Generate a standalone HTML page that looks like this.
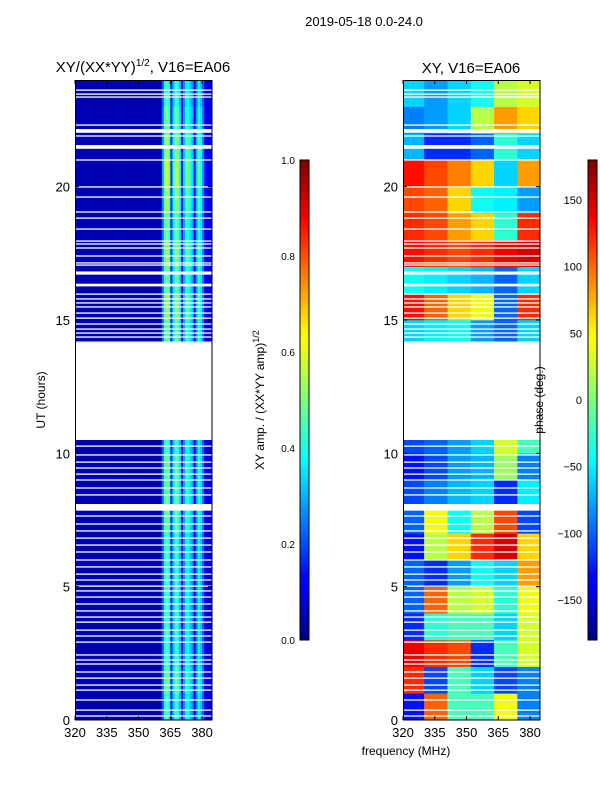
<!DOCTYPE html>
<html><head><meta charset="utf-8"><style>
body{margin:0;background:#fff;width:600px;height:800px;overflow:hidden;font-family:"Liberation Sans",sans-serif}
svg text{font-family:"Liberation Sans",sans-serif;fill:#000}
</style></head><body>
<svg id="fig" width="600" height="800" xmlns="http://www.w3.org/2000/svg">
<defs>
<linearGradient id="jet" x1="0" y1="1" x2="0" y2="0">
<stop offset="0" stop-color="#00007f"/><stop offset="0.11" stop-color="#0000ff"/><stop offset="0.125" stop-color="#0000ff"/>
<stop offset="0.34" stop-color="#00dcff"/><stop offset="0.375" stop-color="#00ffff"/><stop offset="0.5" stop-color="#7dff7a"/>
<stop offset="0.625" stop-color="#ffff00"/><stop offset="0.66" stop-color="#ffe600"/><stop offset="0.875" stop-color="#ff0000"/><stop offset="1" stop-color="#7f0000"/>
</linearGradient>
</defs>
<text x="364" y="26" font-size="13" text-anchor="middle">2019-05-18 0.0-24.0</text>
<text x="143" y="72" font-size="15" text-anchor="middle">XY/(XX*YY)<tspan font-size="10" dy="-6">1/2</tspan><tspan dy="6">, V16=EA06</tspan></text>
<text x="471" y="73" font-size="15" text-anchor="middle">XY, V16=EA06</text>
<g id="left"></g>
<g id="right"></g>
<g id="axes"></g>
<text x="406" y="755" font-size="12" text-anchor="middle">frequency (MHz)</text>
<text transform="translate(45,400) rotate(-90)" font-size="12" text-anchor="middle">UT (hours)</text>
<rect x="300" y="160" width="9" height="480" fill="url(#jet)" stroke="#000" stroke-width="1"/>
<rect x="588" y="160" width="9" height="480" fill="url(#jet)" stroke="#000" stroke-width="1"/>
<text transform="translate(264,400) rotate(-90)" font-size="12" text-anchor="middle">XY amp. / (XX*YY amp)<tspan font-size="9" dy="-5">1/2</tspan></text>
<text transform="translate(543,400) rotate(-90)" font-size="12" text-anchor="middle">phase (deg.)</text>
</svg>
<script>
const NS='http://www.w3.org/2000/svg';
// data
const ampFreqs=[];for(let f=320;f<=384;f++)ampFreqs.push(f);
const ampProfile=[.05,.05,.05,.05,.05,.05,.05,.05,.05,.05,.05,.05,.05,.05,.05,.05,.05,.05,.05,.05,.05,.05,.05,.05,.05,.05,.05,.05,.05,.05,.05,.05,.05,.05,.05,.05,.05,.05,.05,.05,.05,
 .22,.4,.45,.4,.14,.32,.42,.42,.32,.11,.27,.37,.37,.32,.27,.11,.27,.37,.32,.22,.11,.09,.09,.09];
const ampHourFactor=[1,1.1,1,1,1,1,1,1.1,1.1,1.1,1,1,1,1,1.1,1.2,1.1,1.2,1.1,1.2,1.3,1.2,1.1,1];
const phaseFreqEdges=[320,330,341,352,363,374,385];
const phaseRows=[
[-130,100,-20,-20,40,-90],[120,-110,-20,-60,-110,-90],[140,120,110,-120,-20,30],[-120,-30,-20,-20,-60,30],
[-100,100,20,30,-30,40],[-100,-120,-80,-40,-60,80],[-130,20,60,120,150,60],[-100,40,-40,20,110,-110],
[-110,-90,-70,-60,-120,-50],[-130,-110,-80,-70,10,-90],[-110,-100,-80,-60,30,-20],null,null,null,
[-60,-50,-40,-80,-100,-60],[130,100,60,40,-100,120],[-40,-50,-60,-70,-100,-60],[130,120,110,120,140,150],
[120,110,80,60,-30,120],[110,100,60,-40,-50,-80],[130,110,90,60,-60,80],[-70,-120,-120,-100,-30,-60],
[-90,-80,-60,20,80,60],[-60,-80,-60,-40,20,30]];
const dataGap=[10.5,14.15];
const gapHours=[23.62,23.47,23.36,22.31,21.9,21.0,19.99,19.61,19.05,18.82,18.41,17.96,17.85,17.7,17.4,17.14,17.06,15.97,15.79,15.64,15.49,15.26,15.07,14.85,14.66,14.51,14.36,14.17,
10.27,9.94,9.67,9.45,9.22,9.0,8.7,8.44,7.65,7.35,7.09,6.82,6.56,6.3,6.0,5.74,5.47,5.25,5.02,4.84,4.61,4.35,4.09,3.86,3.67,3.37,3.15,2.92,2.44,2.25,2.1,1.8,1.57,1.31,1.12,0.75,0.37,0.15];
const thickGaps=[[22.02,22.16],[21.42,21.56],[16.7,16.82],[16.26,16.36],[7.85,8.1]];
const xTicks=[320,335,350,365,380];
const yTicks=[0,5,10,15,20];
const ampTicks=[0,0.2,0.4,0.6,0.8,1.0];
const phaseTicks=[-150,-100,-50,0,50,100,150];
// axes functions
const Y=h=>720-h*(640/24);
const XL=f=>75+(f-320)*(137/64.7);
const XR=f=>403+(f-320)*(137/64.7);
function jet(v){v=Math.max(0,Math.min(1,v));
 const r=Math.min(4*v-1.5,-4*v+4.5),g=Math.min(4*v-0.5,-4*v+3.5),b=Math.min(4*v+0.5,-4*v+2.5);
 const c=x=>Math.round(255*Math.max(0,Math.min(1,x)));return`rgb(${c(r)},${c(g)},${c(b)})`;}
function rect(p,x,y,w,h,fill){const r=document.createElementNS(NS,'rect');r.setAttribute('x',x);r.setAttribute('y',y);r.setAttribute('width',w);r.setAttribute('height',h);r.setAttribute('fill',fill);p.appendChild(r);return r;}
const L=document.getElementById('left'),R=document.getElementById('right');
for(let hr=0;hr<24;hr++){
 for(let i=0;i<ampFreqs.length;i++){
  const f=ampFreqs[i];const x0=XL(f),x1=Math.min(XL(f+1),212);if(x0>=212)continue;
  const r=rect(L,x0,Y(hr+1),x1-x0+0.3,Y(hr)-Y(hr+1)+0.3,jet(ampProfile[i]*(ampProfile[i]>0.06?ampHourFactor[hr]:1)));
  
  
 }
 const row=phaseRows[hr];if(!row)continue;
 for(let j=0;j<row.length;j++){
  const x0=XR(phaseFreqEdges[j]),x1=Math.min(XR(phaseFreqEdges[j+1]),540);
  const r=rect(R,x0,Y(hr+1),x1-x0+0.3,Y(hr)-Y(hr+1)+0.3,jet((row[j]+180)/360));
  
  
 }
}
[[L,75],[R,403]].forEach(([g,x])=>{
 rect(g,x,Y(dataGap[1]),137,Y(dataGap[0])-Y(dataGap[1]),'#fff');
 gapHours.forEach(h=>rect(g,x,Y(h)-0.65,137,1.3,'#fff'));
 thickGaps.forEach(t=>rect(g,x,Y(t[1]),137,Y(t[0])-Y(t[1]),'#fff'));
});
const A=document.getElementById('axes');
function line(x1,y1,x2,y2){const l=document.createElementNS(NS,'line');l.setAttribute('x1',x1);l.setAttribute('y1',y1);l.setAttribute('x2',x2);l.setAttribute('y2',y2);l.setAttribute('stroke','#000');l.setAttribute('stroke-width','1');A.appendChild(l);return l;}
function text(x,y,s,anchor,size){const t=document.createElementNS(NS,'text');t.setAttribute('x',x);t.setAttribute('y',y);t.setAttribute('text-anchor',anchor);t.setAttribute('font-size',size);t.textContent=s;A.appendChild(t);return t;}
[75,403].forEach(x0=>{
 const fr=document.createElementNS(NS,'rect');fr.setAttribute('x',x0+0.5);fr.setAttribute('y',80.5);fr.setAttribute('width',136.5);fr.setAttribute('height',639.5);fr.setAttribute('fill','none');fr.setAttribute('stroke','#000');A.appendChild(fr);
 
 
 const X=x0===75?XL:XR;
 xTicks.forEach(v=>{line(X(v),720,X(v),716);line(X(v),80,X(v),84);const t=text(X(v),737,String(v),'middle',13);
  
  });
 yTicks.forEach(v=>{line(x0,Y(v),x0+4,Y(v));line(x0+137,Y(v),x0+133,Y(v));const t=text(x0-5,Y(v)+5,String(v),'end',13);
  
  });
});
ampTicks.forEach(v=>{const y=640-v*480;line(300,y,304,y);const t=text(295,y+4,v.toFixed(1),'end',10);
 
 });
phaseTicks.forEach(v=>{const y=640-(v+180)/360*480;line(588,y,592,y);const t=text(582,y+4,v<0?'\u2212'+(-v):String(v),'end',11);
 
 });
</script>
</body></html>
